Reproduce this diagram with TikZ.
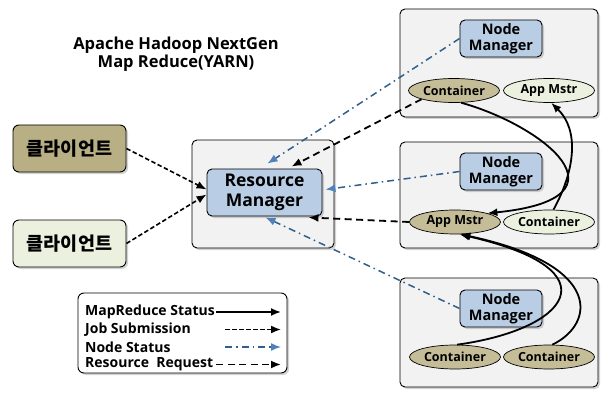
\documentclass[tikz,border=0pt]{standalone}
\usepackage{fontspec}
\setmainfont{Open Sans}
\newfontfamily\kr{Noto Sans CJK KR}
\usetikzlibrary{shapes.geometric,arrows.meta,shadows}
\definecolor{cKhaki}{HTML}{C4BD97}
\definecolor{cKhakiDk}{HTML}{B8AF85}
\definecolor{cOlive}{HTML}{EBF1DE}
\definecolor{cBlue}{HTML}{B9CDE5}
\definecolor{cGray}{HTML}{F2F2F2}
\definecolor{cNs}{HTML}{2F5F8A}
\definecolor{cNsTip}{HTML}{4F81BD}
\tikzstyle{shd}=[drop shadow={shadow xshift=2pt, shadow yshift=-2pt, opacity=.35}]
\tikzstyle{outer}=[draw, rounded corners=5pt, fill=cGray, line width=.9pt, shd]
\tikzstyle{nm}=[draw, rounded corners=5pt, fill=cBlue, line width=.9pt, align=center, inner sep=0, shd, font=\bfseries\fontsize{14.5}{15.5}\selectfont]
\tikzstyle{cl}=[draw, rounded corners=6pt, line width=.9pt, minimum width=113, minimum height=47, inner sep=0, shd, font=\kr\bfseries\fontsize{18.5}{19}\selectfont]
\tikzstyle{el}=[draw, ellipse, line width=.7pt, minimum width=91, minimum height=24, inner sep=0, font=\bfseries\fontsize{12.5}{13}\selectfont]
\tikzstyle{mrs}=[line width=1.8pt, -{Latex[length=10pt,width=8pt]}]
\tikzstyle{job}=[line width=1.6pt, dash pattern=on 4.5pt off 2.5pt, -{Latex[length=10pt,width=8pt]}]
\tikzstyle{nst}=[line width=1.5pt, cNs, dash pattern=on 7pt off 4pt on 1.5pt off 4pt, -{Latex[length=10pt,width=8pt,color=cNsTip]}]
\tikzstyle{req}=[line width=1.8pt, dash pattern=on 7pt off 4.5pt, -{Latex[length=10pt,width=8pt]}]
\tikzstyle{lg}=[anchor=west, inner sep=0, font=\bfseries\fontsize{14}{15}\selectfont]

\begin{document}
\begin{tikzpicture}[x=1pt, y=-1pt]
\useasboundingbox (0,0) rectangle (613,401);
\node at (176,54)[align=center, font=\bfseries\fontsize{16.5}{18.5}\selectfont](title){Apache Hadoop NextGen\\Map Reduce(YARN)};
\node at (69.5,148.5)[cl, fill=cKhakiDk](cl1){클라이언트};
\node at (69.5,243.5)[cl, fill=cOlive](cl2){클라이언트};
\node at (263,194)[outer, minimum width=142, minimum height=108](rmbox){};
\node at (264.5,192.5)[nm, minimum width=115, minimum height=47, font=\bfseries\fontsize{17.5}{19.5}\selectfont](rm){Resource\\Manager};
\node at (499,63)[outer, minimum width=198, minimum height=108](b1){};
\node at (499,195)[outer, minimum width=198, minimum height=106](b2){};
\node at (499,332.5)[outer, minimum width=198, minimum height=109](b3){};
\node at (501,38.5)[nm, minimum width=82, minimum height=37](nm1){Node\\Manager};
\node at (501,171.5)[nm, minimum width=82, minimum height=37](nm2){Node\\Manager};
\node at (501,308.5)[nm, minimum width=82, minimum height=37](nm3){Node\\Manager};
\node at (454,90.5)[el, fill=cKhaki](ct1){Container};
\node at (549,90.5)[el, fill=cOlive](am1){App Mstr};
\node at (455,222)[el, fill=cKhaki](am2){App Mstr};
\node at (549,222)[el, fill=cOlive](ct2){Container};
\node at (455,357)[el, fill=cKhaki](ct3){Container};
\node at (549,357)[el, fill=cKhaki](ct4){Container};
\node at (182.5,333)[draw, rounded corners=6pt, fill=white, line width=.9pt, minimum width=209, minimum height=80, shd](lgd){};
\node at (85,312)[lg](l1){MapReduce Status};
\node at (85,329.5)[lg](l2){Job Submission};
\node at (85,347)[lg](l3){Node Status};
\node at (85,364.5)[lg](l4){Resource\ \ Request};
\coordinate (e1) at (281,312);
\coordinate (e2) at (281,329.5);
\coordinate (e3) at (281,347);
\coordinate (e4) at (281,364.5);
\coordinate (s2) at (225,329.5);
\coordinate (s3) at (225,347);
\draw[mrs] ([xshift=1pt]l1.east) -- (e1);
\draw[job] (s2) -- (e2);
\draw[nst] (s3) -- (e3);
\draw[req] ([xshift=3pt]l4.east) -- (e4);
\draw[job] (cl1.east) -- ([yshift=3pt]rm.west);
\draw[job] (cl2.east) -- ([yshift=-2pt]rm.west);
\draw[nst] (nm1.west) -- ([xshift=3pt,yshift=5pt]rm.north);
\draw[req] (ct1.south west) -- ([xshift=27pt,yshift=2pt]rm.north);
\draw[nst] (nm2.west) -- ([xshift=3pt,yshift=3pt]rm.east);
\draw[req] (am2.west) -- ([xshift=-14pt,yshift=-1pt]rm.south east);
\draw[nst] (nm3.west) -- ([xshift=1pt,yshift=-1pt]rm.south);
\draw[mrs] (ct1.-60) .. controls +(80,22) and +(150,-15) .. (am2.north east);
\draw[mrs] (ct2.70) .. controls +(22,-40) and +(28,27) .. (am1.-80);
\draw[mrs] (ct3.80) .. controls +(110,-15) and +(158,36) .. (am2.-70);
\draw[mrs] (ct4.75) .. controls +(42,-20) and +(145,31) .. (am2.-66);
\end{tikzpicture}
\end{document}
